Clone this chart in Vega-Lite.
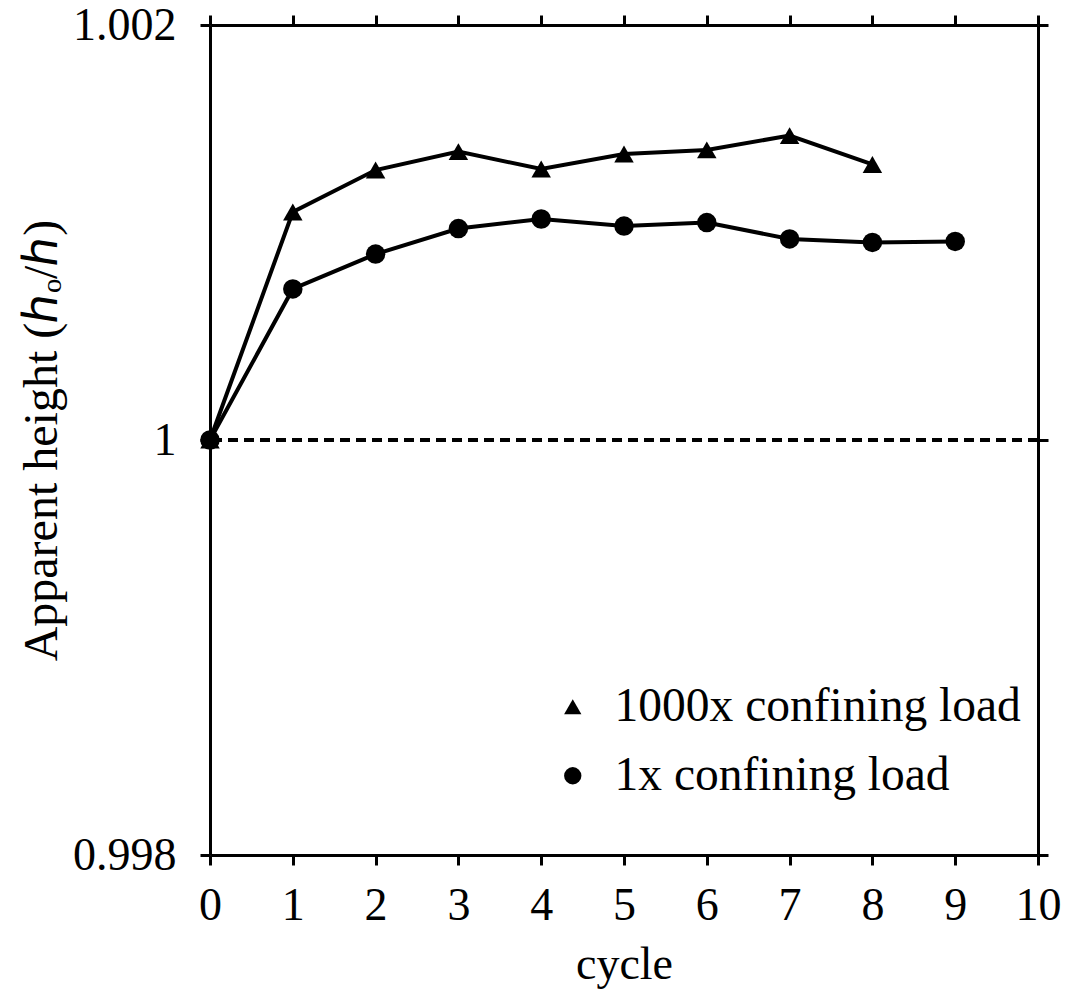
{
  "$schema": "https://vega.github.io/schema/vega-lite/v6.json",
  "width": 828,
  "height": 830,
  "autosize": {"type": "none"},
  "padding": {"left": 210, "top": 25, "right": 31, "bottom": 139},
  "background": "white",
  "config": {
    "view": {"stroke": null},
    "font": "Liberation Serif",
    "axis": {
      "grid": false,
      "domainColor": "black",
      "domainWidth": 3,
      "tickColor": "black",
      "tickWidth": 3,
      "tickSize": 10,
      "labelFont": "Liberation Serif",
      "labelFontSize": 46,
      "labelColor": "black",
      "titleFont": "Liberation Serif",
      "titleFontSize": 46,
      "titleFontWeight": "normal",
      "titleColor": "black"
    }
  },
  "data": {
    "values": [
      {"cycle": 0, "h": 1.0, "series": "1000x confining load"},
      {"cycle": 1, "h": 1.001099, "series": "1000x confining load"},
      {"cycle": 2, "h": 1.001301, "series": "1000x confining load"},
      {"cycle": 3, "h": 1.00139, "series": "1000x confining load"},
      {"cycle": 4, "h": 1.001306, "series": "1000x confining load"},
      {"cycle": 5, "h": 1.001378, "series": "1000x confining load"},
      {"cycle": 6, "h": 1.001398, "series": "1000x confining load"},
      {"cycle": 7, "h": 1.001467, "series": "1000x confining load"},
      {"cycle": 8, "h": 1.001328, "series": "1000x confining load"},
      {"cycle": 0, "h": 1.0, "series": "1x confining load"},
      {"cycle": 1, "h": 1.000728, "series": "1x confining load"},
      {"cycle": 2, "h": 1.000896, "series": "1x confining load"},
      {"cycle": 3, "h": 1.001019, "series": "1x confining load"},
      {"cycle": 4, "h": 1.001065, "series": "1x confining load"},
      {"cycle": 5, "h": 1.001031, "series": "1x confining load"},
      {"cycle": 6, "h": 1.001048, "series": "1x confining load"},
      {"cycle": 7, "h": 1.000969, "series": "1x confining load"},
      {"cycle": 8, "h": 1.000952, "series": "1x confining load"},
      {"cycle": 9, "h": 1.000957, "series": "1x confining load"}
    ]
  },
  "layer": [
    {
      "mark": {"type": "rule", "color": "black", "strokeWidth": 3, "strokeDash": [10, 6]},
      "encoding": {
        "y": {"datum": 1, "type": "quantitative", "scale": {"domain": [0.998, 1.002]}, "axis": null}
      }
    },
    {
      "mark": {"type": "line", "color": "black", "strokeWidth": 4},
      "encoding": {
        "x": {
          "field": "cycle", "type": "quantitative",
          "scale": {"domain": [0, 10], "nice": false},
          "axis": {"values": [0,1,2,3,4,5,6,7,8,9,10], "title": "cycle", "labelPadding": 18, "titlePadding": 14, "labelFlush": false}
        },
        "y": {
          "field": "h", "type": "quantitative",
          "scale": {"domain": [0.998, 1.002], "nice": false, "zero": false},
          "axis": {
            "values": [0.998, 1, 1.002],
            "labelExpr": "datum.value == 1 ? '1' : format(datum.value, '.3f')",
            "title": "Apparent height (ℎₒ/ℎ)",
            "titleFontSize": 48,
            "labelPadding": 24,
            "titlePadding": 6,
            "labelFlush": false
          }
        },
        "detail": {"field": "series"}
      }
    },
    {
      "mark": {"type": "point", "filled": true, "color": "black", "opacity": 1, "size": 380},
      "encoding": {
        "x": {
          "field": "cycle", "type": "quantitative",
          "axis": {"orient": "top", "values": [0,1,2,3,4,5,6,7,8,9,10], "labels": false, "title": null}
        },
        "y": {
          "field": "h", "type": "quantitative",
          "axis": {"orient": "right", "values": [0.998, 1, 1.002], "labels": false, "title": null}
        },
        "shape": {
          "field": "series", "type": "nominal",
          "scale": {"domain": ["1000x confining load", "1x confining load"], "range": ["triangle-up", "circle"]},
          "legend": {
            "title": null,
            "orient": "none",
            "legendX": 339,
            "legendY": 658,
            "labelFont": "Liberation Serif",
            "labelFontSize": 47.5,
            "labelColor": "black",
            "labelOffset": 18,
            "symbolSize": 300,
            "symbolFillColor": "black",
            "symbolStrokeColor": "black",
            "rowPadding": 20,
            "labelLimit": 600
          }
        }
      }
    }
  ],
  "resolve": {"axis": {"x": "independent", "y": "independent"}}
}
